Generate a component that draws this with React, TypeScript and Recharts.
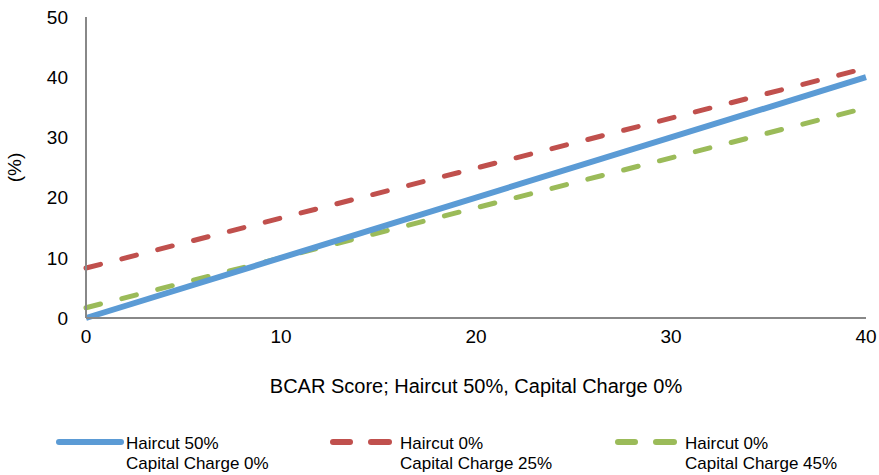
import { LineChart, Line, XAxis, YAxis, Label } from "recharts";

// BCAR score (x) and resulting % for each scenario
const scores = [0, 40];
const haircut50 = [0, 40];
const haircut0cap25 = [8.3, 41.5];
const haircut0cap45 = [1.7, 34.9];
const xTicks = [0, 10, 20, 30, 40];
const yTicks = [0, 10, 20, 30, 40, 50];

const data = scores.map((s, i) => ({
  score: s,
  a: haircut50[i],
  b: haircut0cap25[i],
  c: haircut0cap45[i],
}));

const font = "Arial, 'Liberation Sans', sans-serif";

if (typeof document !== "undefined") document.body.style.margin = "0";

const legendItems = [
  { line1: "Haircut 50%", line2: "Capital Charge 0%", color: "#5b9bd5", dash: false, x: 55 },
  { line1: "Haircut 0%", line2: "Capital Charge 25%", color: "#c0504d", dash: true, x: 329 },
  { line1: "Haircut 0%", line2: "Capital Charge 45%", color: "#9bbb59", dash: true, x: 614 },
];

function MyLegend() {
  return (
    <div style={{ position: "absolute", left: 0, top: 432, width: 879, height: 43, fontFamily: font, fontSize: 17, color: "#000" }}>
      {legendItems.map((it) => (
        <div key={it.line2} style={{ position: "absolute", left: it.x, top: 0 }}>
          <svg width={70} height={12} style={{ position: "absolute", left: 0, top: 4 }}>
            {it.dash ? (
              <>
                <line x1={4} y1={6} x2={21} y2={6} stroke={it.color} strokeWidth={6} strokeLinecap="round" />
                <line x1={42} y1={6} x2={60} y2={6} stroke={it.color} strokeWidth={6} strokeLinecap="round" />
              </>
            ) : (
              <line x1={4} y1={6} x2={66} y2={6} stroke={it.color} strokeWidth={6} strokeLinecap="round" />
            )}
          </svg>
          <div style={{ position: "absolute", left: 71, top: 2, lineHeight: "20px", whiteSpace: "nowrap" }}>
            {it.line1}
            <br />
            {it.line2}
          </div>
        </div>
      ))}
    </div>
  );
}

export default function App() {
  return (
    <div style={{ background: "#fff", position: "relative", width: 879, height: 475, overflow: "hidden" }}>
      <LineChart
        width={879}
        height={475}
        data={data}
        margin={{ top: 17, right: 13, left: 26, bottom: 77 }}
        style={{ fontFamily: font }}
      >
        <XAxis
          dataKey="score"
          type="number"
          domain={[0, 40]}
          ticks={xTicks}
          tickLine={false}
          tickSize={0}
          tickMargin={12}
          axisLine={{ stroke: "#888", strokeWidth: 2 }}
          tick={{ fill: "#000", fontSize: 19 }}
          height={80}
        >
          <Label
            value="BCAR Score; Haircut 50%, Capital Charge 0%"
            position="insideBottom"
            offset={5}
            style={{ fill: "#000", fontSize: 20 }}
          />
        </XAxis>
        <YAxis
          type="number"
          domain={[0, 50]}
          ticks={yTicks}
          tickLine={false}
          tickSize={0}
          tickMargin={18}
          axisLine={{ stroke: "#888", strokeWidth: 2 }}
          tick={{ fill: "#000", fontSize: 19 }}
          width={60}
        >
          <Label
            value="(%)"
            angle={-90}
            position="insideLeft"
            offset={-12}
            style={{ fill: "#000", fontSize: 19, textAnchor: "middle" }}
          />
        </YAxis>
        <Line
          dataKey="b"
          stroke="#c0504d"
          strokeWidth={5}
          strokeDasharray="15 22"
          strokeLinecap="round"
          dot={false}
          activeDot={false}
          isAnimationActive={false}
        />
        <Line
          dataKey="c"
          stroke="#9bbb59"
          strokeWidth={5}
          strokeDasharray="15 22"
          strokeLinecap="round"
          dot={false}
          activeDot={false}
          isAnimationActive={false}
        />
        <Line
          dataKey="a"
          stroke="#5b9bd5"
          strokeWidth={6}
          dot={false}
          activeDot={false}
          isAnimationActive={false}
        />
      </LineChart>
      <MyLegend />
    </div>
  );
}
